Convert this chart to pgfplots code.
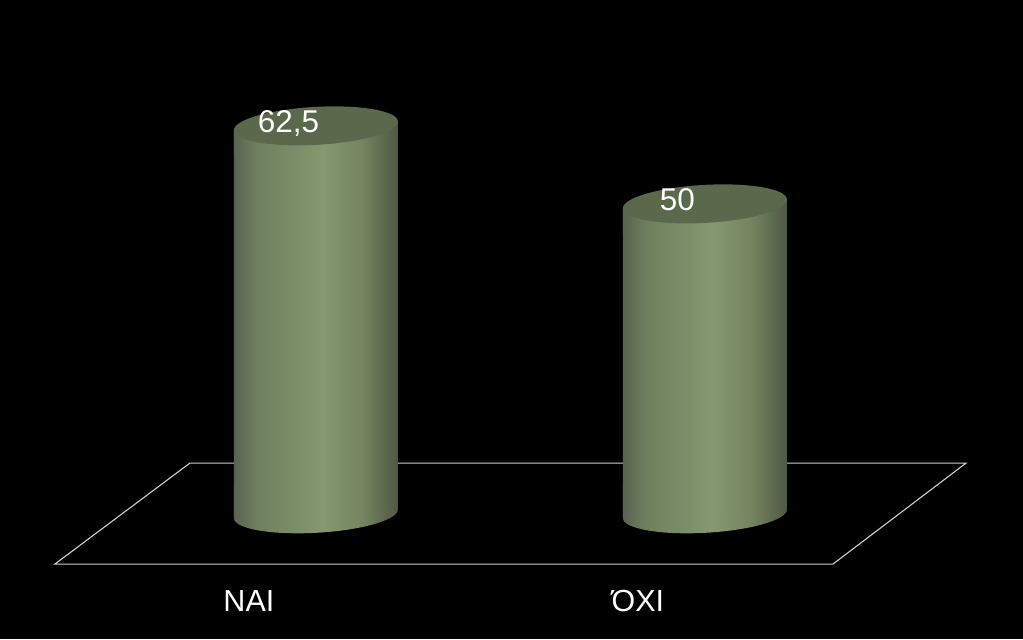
\documentclass[border=0pt]{standalone}
\usepackage{fontspec}
\setmainfont{Liberation Sans}
\usepackage{pgfplots}
\pgfplotsset{compat=1.18}
\definecolor{capgreen}{HTML}{5A684B}
\definecolor{floorline}{HTML}{D0D0D0}
\definecolor{c1}{HTML}{586450}
\definecolor{c2}{HTML}{6E7F5E}
\definecolor{c3}{HTML}{85986F}
\definecolor{c4}{HTML}{74855F}
\definecolor{c5}{HTML}{4F5742}
% the middle half of the 100bp shading is what covers a path's width
\pgfdeclarehorizontalshading{cylbody}{100bp}{
  color(0bp)=(c1);
  color(25bp)=(c1);
  color(32bp)=(c2);
  color(52bp)=(c3);
  color(64bp)=(c4);
  color(75bp)=(c5);
  color(100bp)=(c5)}
\newcommand\capellipse{\pgfpathellipse{\pgfpointorigin}{\pgfqpoint{82pt}{4.58pt}}{\pgfqpoint{-1.06pt}{18.97pt}}}
% caps of the cylinders, tilted like the reference
\pgfdeclareplotmark{topcap}{%
  \pgftransformshift{\pgfqpoint{0pt}{-0.8pt}}%
  % black out the bar corner left of the tilted rim
  \pgfsetfillcolor{black}%
  \pgfpathmoveto{\pgfqpoint{-84pt}{-4.58pt}}%
  \pgfpathlineto{\pgfqpoint{-84pt}{3pt}}%
  \pgfpathlineto{\pgfqpoint{0pt}{3pt}}%
  \pgfpathlineto{\pgfqpoint{0pt}{0pt}}%
  \pgfpathclose\pgfusepathqfill
  % body wall up to the rim
  \pgfpathmoveto{\pgfqpoint{-82pt}{-30pt}}%
  \pgfpathlineto{\pgfqpoint{82pt}{-30pt}}%
  \pgfpathlineto{\pgfqpoint{82pt}{4.58pt}}%
  \pgfpathlineto{\pgfqpoint{-82pt}{-4.58pt}}%
  \pgfpathclose\pgfshadepath{cylbody}{0}\pgfusepath{discard}%
  \pgfsetfillcolor{capgreen}%
  \capellipse\pgfusepathqfill}
\pgfdeclareplotmark{lowcap}{%
  \pgftransformshift{\pgfqpoint{0pt}{1.3pt}}%
  % black out the bar corner right of the tilted rim
  \pgfsetfillcolor{black}%
  \pgfpathmoveto{\pgfqpoint{84pt}{4.58pt}}%
  \pgfpathlineto{\pgfqpoint{84pt}{-3pt}}%
  \pgfpathlineto{\pgfqpoint{0pt}{-3pt}}%
  \pgfpathlineto{\pgfqpoint{0pt}{0pt}}%
  \pgfpathclose\pgfusepathqfill
  \capellipse\pgfshadepath{cylbody}{0}\pgfusepath{discard}%
  \pgfpathmoveto{\pgfqpoint{-82pt}{-4.58pt}}%
  \pgfpathlineto{\pgfqpoint{82pt}{4.58pt}}%
  \pgfpathlineto{\pgfqpoint{82pt}{30pt}}%
  \pgfpathlineto{\pgfqpoint{-82pt}{30pt}}%
  \pgfpathclose\pgfshadepath{cylbody}{0}\pgfusepath{discard}}
\begin{document}
\begin{tikzpicture}
\begin{axis}[
  scale only axis,width=1023pt,height=639pt,
  xmin=-0.812,xmax=1.8175,ymin=-19.87,ymax=82.53,
  axis background/.style={fill=black},
  axis line style={draw=none},
  major tick length=0pt,
  ytick=\empty,
  xtick={0,1},xticklabels={ΝΑΙ,ΌΧΙ},
  xticklabel style={white,font=\fontsize{30.5}{34}\selectfont,anchor=center,xshift=-67pt,yshift=38pt},
  clip=false,
  /pgf/number format/use comma,
  /pgf/number format/assume math mode=true,
]
\addplot[floorline,line width=1.1pt] coordinates {(-0.324,8.33)(1.671,8.33)(1.329,-7.85)(-0.671,-7.85)(-0.324,8.33)};
\addplot[ybar,bar width=164pt,bar shift=0pt,draw=none,shading=cylbody] coordinates {(0,62.5)};
\addplot[ybar,bar width=164pt,bar shift=0pt,draw=none,shading=cylbody] coordinates {(1,50)};
\addplot[only marks,mark=lowcap] coordinates {(0,0)(1,0)};
\addplot[only marks,mark=topcap,
  point meta=y,
  nodes near coords,
  every node near coord/.append style={white,font=\fontsize{31.5}{34}\selectfont,anchor=base,xshift=-27.5pt,yshift=-6.5pt},
  ] coordinates {(0,62.5)(1,50)};
\end{axis}
\end{tikzpicture}
\end{document}
